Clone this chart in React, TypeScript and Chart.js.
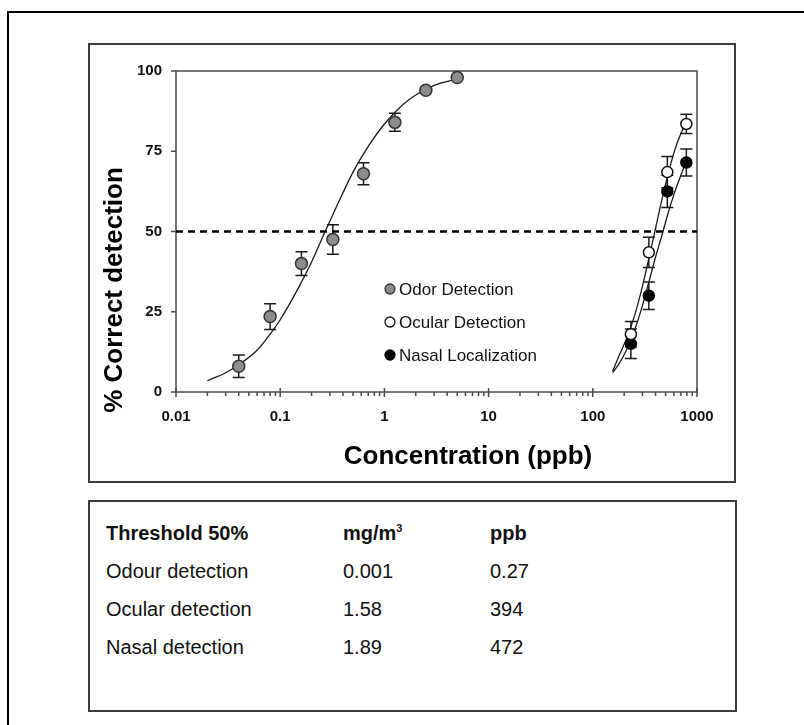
import React, { useEffect, useRef } from 'react';
import { Chart, registerables } from 'chart.js';

Chart.register(...registerables);

const FONT = 'Arial, "Liberation Sans", Helvetica, sans-serif';

// ---------- data ----------
const seriesNames = ['Odor Detection', 'Ocular Detection', 'Nasal Localization'];

const odorX = [0.04, 0.08, 0.16, 0.32, 0.63, 1.26, 2.5, 5.0];
const odorY = [8, 23.5, 40, 47.5, 68, 84, 94, 98];
const odorErr = [3.5, 4, 3.7, 4.6, 3.4, 2.8, 0, 0];

const ocularX = [232, 345, 519, 790];
const ocularY = [18, 43.5, 68.5, 83.5];
const ocularErr = [4, 4.7, 4.9, 3];

const nasalX = [232, 345, 519, 790];
const nasalY = [15, 30, 62.5, 71.5];
const nasalErr = [4.6, 4.3, 5, 4.2];

const odorCurveX = [0.02, 0.03, 0.04, 0.06, 0.08, 0.1, 0.15, 0.2, 0.27, 0.35, 0.5, 0.7, 1, 1.5, 2, 3, 5];
const odorCurveY = [3.5, 6, 8.5, 13, 18, 22.5, 32.5, 40.5, 50, 58, 68.5, 76.5, 83.5, 89.5, 92.5, 95.5, 97.5];

const ocularCurveX = [155, 180, 210, 250, 300, 350, 394, 450, 520, 600, 700, 790];
const ocularCurveY = [6.5, 11.5, 16.5, 23.5, 33, 42.5, 50, 58.5, 67, 74.5, 80.5, 84];

const nasalCurveX = [155, 180, 210, 250, 300, 350, 400, 472, 520, 600, 700, 790];
const nasalCurveY = [6, 9, 13, 19, 27, 35, 42, 50, 55, 61.5, 67.5, 72];

const thresholdLevel = 50;
const xRange = [0.01, 1000];
const yRange = [0, 100];
const xTickValues = [0.01, 0.1, 1, 10, 100, 1000];
const xTickLabels = ['0.01', '0.1', '1', '10', '100', '1000'];
const yTickValues = [0, 25, 50, 75, 100];

const xTitle = 'Concentration (ppb)';
const yTitle = '% Correct detection';

const tableHeader = ['Threshold 50%', 'mg/m', 'ppb'];
const tableNames = ['Odour detection', 'Ocular detection', 'Nasal detection'];
const tableMg = ['0.001', '1.58', '1.89'];
const tablePpb = ['0.27', '394', '472'];

// ---------- styles ----------
const markerStyles = [
  { fill: '#8c8c8c', stroke: '#333333', r: 6 },
  { fill: '#ffffff', stroke: '#111111', r: 5.5 },
  { fill: '#000000', stroke: '#000000', r: 5.5 },
];

const pts = (xs: number[], ys: number[]) => xs.map((x, i) => ({ x, y: ys[i] }));

const decorPlugin = {
  id: 'decor',
  beforeDatasetsDraw(chart: any) {
    const { ctx, chartArea: a, scales } = chart;
    const x = scales.x;
    const y = scales.y;
    ctx.save();
    // frame
    ctx.strokeStyle = '#4a4a4a';
    ctx.lineWidth = 1.5;
    ctx.strokeRect(a.left, a.top, a.right - a.left, a.bottom - a.top);
    // y ticks
    ctx.beginPath();
    yTickValues.forEach((v) => {
      const py = y.getPixelForValue(v);
      ctx.moveTo(a.left - 5, py);
      ctx.lineTo(a.left, py);
    });
    ctx.stroke();
    // x ticks: major at decades, minor at 2..9
    ctx.beginPath();
    xTickValues.forEach((d, k) => {
      const px = x.getPixelForValue(d);
      ctx.moveTo(px, a.bottom - 4);
      ctx.lineTo(px, a.bottom + 5);
      if (k < xTickValues.length - 1) {
        for (let m = 2; m <= 9; m++) {
          const mx = x.getPixelForValue(d * m);
          ctx.moveTo(mx, a.bottom);
          ctx.lineTo(mx, a.bottom + 4);
        }
      }
    });
    ctx.stroke();
    // error bars
    const groups = [
      { xs: odorX, ys: odorY, es: odorErr },
      { xs: ocularX, ys: ocularY, es: ocularErr },
      { xs: nasalX, ys: nasalY, es: nasalErr },
    ];
    ctx.strokeStyle = '#1a1a1a';
    ctx.lineWidth = 1.5;
    groups.forEach((g) => {
      g.xs.forEach((xv, i) => {
        const e = g.es[i];
        if (!e) return;
        const px = x.getPixelForValue(xv);
        const top = y.getPixelForValue(g.ys[i] + e);
        const bot = y.getPixelForValue(g.ys[i] - e);
        ctx.beginPath();
        ctx.moveTo(px, top);
        ctx.lineTo(px, bot);
        ctx.moveTo(px - 6, top);
        ctx.lineTo(px + 6, top);
        ctx.moveTo(px - 6, bot);
        ctx.lineTo(px + 6, bot);
        ctx.stroke();
      });
    });
    ctx.restore();
  },
  afterDatasetsDraw(chart: any) {
    const { ctx } = chart;
    ctx.save();
    // legend
    const lx = 390;
    const ly = [289, 322, 355];
    seriesNames.forEach((name, i) => {
      const s = markerStyles[i];
      ctx.beginPath();
      ctx.arc(lx, ly[i], 5, 0, Math.PI * 2);
      ctx.fillStyle = s.fill;
      ctx.fill();
      ctx.lineWidth = 1.3;
      ctx.strokeStyle = s.stroke;
      ctx.stroke();
      ctx.fillStyle = '#111';
      ctx.font = `17px ${FONT}`;
      ctx.textAlign = 'left';
      ctx.textBaseline = 'middle';
      ctx.fillText(name, lx + 9, ly[i] + 1);
    });
    // axis titles
    ctx.fillStyle = '#000';
    ctx.font = `bold 26px ${FONT}`;
    ctx.textAlign = 'center';
    ctx.textBaseline = 'middle';
    ctx.fillText(xTitle, 468, 457);
    ctx.translate(115, 290);
    ctx.rotate(-Math.PI / 2);
    ctx.fillText(yTitle, 0, 0);
    ctx.restore();
  },
};

export default function App() {
  const ref = useRef<HTMLCanvasElement>(null);

  useEffect(() => {
    const canvas = ref.current;
    if (!canvas) return;
    const curveStyle = {
      showLine: true,
      pointRadius: 0,
      borderColor: '#1a1a1a',
      borderWidth: 1.3,
      cubicInterpolationMode: 'monotone' as const,
    };
    const chart = new Chart(canvas, {
      type: 'scatter',
      data: {
        datasets: [
          {
            label: seriesNames[0],
            data: pts(odorX, odorY),
            showLine: false,
            pointRadius: markerStyles[0].r,
            pointBackgroundColor: markerStyles[0].fill,
            pointBorderColor: markerStyles[0].stroke,
            pointBorderWidth: 1.5,
          },
          {
            label: seriesNames[1],
            data: pts(ocularX, ocularY),
            showLine: false,
            pointRadius: markerStyles[1].r,
            pointBackgroundColor: markerStyles[1].fill,
            pointBorderColor: markerStyles[1].stroke,
            pointBorderWidth: 1.5,
          },
          {
            label: seriesNames[2],
            data: pts(nasalX, nasalY),
            showLine: false,
            pointRadius: markerStyles[2].r,
            pointBackgroundColor: markerStyles[2].fill,
            pointBorderColor: markerStyles[2].stroke,
            pointBorderWidth: 1.5,
          },
          { label: 'fit odor', data: pts(odorCurveX, odorCurveY), ...curveStyle },
          { label: 'fit ocular', data: pts(ocularCurveX, ocularCurveY), ...curveStyle },
          { label: 'fit nasal', data: pts(nasalCurveX, nasalCurveY), ...curveStyle },
          {
            label: 'threshold',
            data: [
              { x: xRange[0], y: thresholdLevel },
              { x: xRange[1], y: thresholdLevel },
            ],
            showLine: true,
            pointRadius: 0,
            borderColor: '#000',
            borderWidth: 2.5,
            borderDash: [7, 5],
          },
        ],
      } as any,
      options: {
        responsive: false,
        devicePixelRatio: 1,
        animation: false,
        events: [],
        layout: { padding: { top: 71, right: 107, bottom: 0, left: 0 } },
        plugins: { legend: { display: false }, tooltip: { enabled: false } },
        elements: { line: { tension: 0 } },
        scales: {
          x: {
            type: 'logarithmic',
            min: xRange[0],
            max: xRange[1],
            grid: { display: false, drawTicks: false },
            border: { display: false },
            afterBuildTicks: (s: any) => {
              s.ticks = xTickValues.map((v) => ({ value: v }));
            },
            afterFit: (s: any) => {
              s.height = 333;
            },
            ticks: {
              autoSkip: false,
              maxRotation: 0,
              padding: 16,
              color: '#111',
              font: { family: FONT, size: 15, weight: 'bold' },
              callback: (v: any) => {
                const i = xTickValues.indexOf(Number(v));
                return i >= 0 ? xTickLabels[i] : '';
              },
            },
          },
          y: {
            type: 'linear',
            min: yRange[0],
            max: yRange[1],
            grid: { display: false, drawTicks: false },
            border: { display: false },
            afterBuildTicks: (s: any) => {
              s.ticks = yTickValues.map((v) => ({ value: v }));
            },
            afterFit: (s: any) => {
              s.width = 176;
            },
            ticks: {
              padding: 14,
              color: '#111',
              font: { family: FONT, size: 15, weight: 'bold' },
            },
          },
        },
      } as any,
      plugins: [decorPlugin],
    });
    return () => chart.destroy();
  }, []);

  const rowTop = [533, 571, 609, 647];
  const colLeft = [106, 343, 490];
  const cell = (left: number, top: number, bold: boolean, content: React.ReactNode, key: string) => (
    <div
      key={key}
      style={{
        position: 'absolute',
        left,
        top: top - 12,
        height: 24,
        lineHeight: '24px',
        fontSize: 20,
        fontWeight: bold ? 'bold' : 'normal',
        color: '#111',
        whiteSpace: 'nowrap',
      }}
    >
      {content}
    </div>
  );

  return (
    <div
      style={{
        position: 'absolute',
        left: 0,
        top: 0,
        width: 804,
        height: 725,
        overflow: 'hidden',
        background: '#fff',
        fontFamily: FONT,
      }}
    >
      <div
        style={{
          position: 'absolute',
          left: 7,
          top: 11,
          width: 797,
          height: 714,
          borderLeft: '2px solid #000',
          borderTop: '2px solid #000',
          boxSizing: 'border-box',
        }}
      />
      <div
        style={{
          position: 'absolute',
          left: 88,
          top: 43,
          width: 648,
          height: 440,
          border: '2px solid #3c3c3c',
          boxSizing: 'border-box',
        }}
      />
      <div
        style={{
          position: 'absolute',
          left: 88,
          top: 500,
          width: 649,
          height: 212,
          border: '2px solid #3c3c3c',
          boxSizing: 'border-box',
        }}
      />
      {cell(colLeft[0], rowTop[0], true, tableHeader[0], 'h0')}
      {cell(
        colLeft[1],
        rowTop[0],
        true,
        <span>
          {tableHeader[1]}
          <sup style={{ fontSize: 11, verticalAlign: 'top', lineHeight: '14px' }}>3</sup>
        </span>,
        'h1'
      )}
      {cell(colLeft[2], rowTop[0], true, tableHeader[2], 'h2')}
      {tableNames.map((n, i) => cell(colLeft[0], rowTop[i + 1], false, n, 'n' + i))}
      {tableMg.map((n, i) => cell(colLeft[1], rowTop[i + 1], false, n, 'm' + i))}
      {tablePpb.map((n, i) => cell(colLeft[2], rowTop[i + 1], false, n, 'p' + i))}
      <canvas
        ref={ref}
        width={804}
        height={725}
        style={{ position: 'absolute', left: 0, top: 0, width: 804, height: 725 }}
      />
    </div>
  );
}
